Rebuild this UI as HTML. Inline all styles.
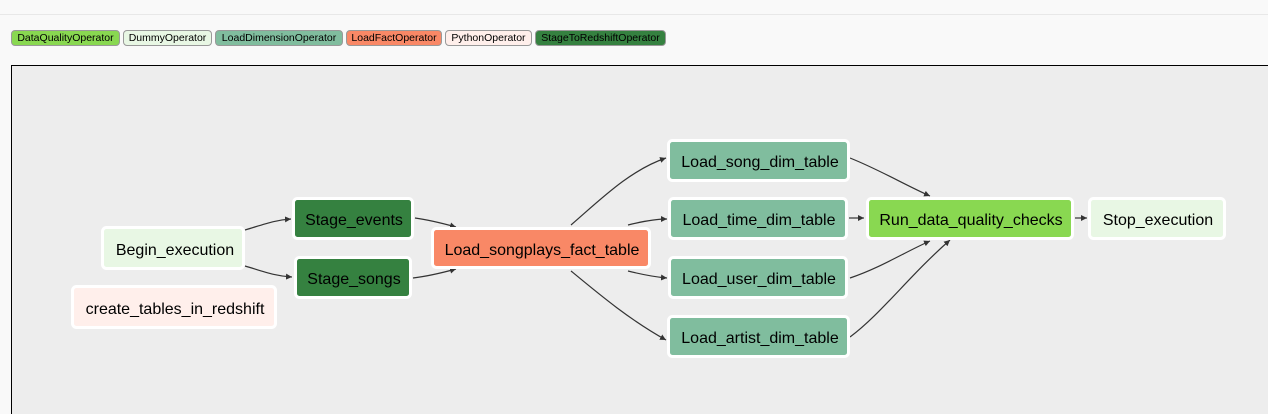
<!DOCTYPE html>
<html><head><meta charset="utf-8"><style>
html,body{margin:0;padding:0;width:1268px;height:414px;overflow:hidden;background:#f9f9f9;font-family:"Liberation Sans",Arial,sans-serif;}
.top{position:absolute;left:0;top:14px;width:1268px;height:1px;background:#e8e8e8;}
.leg{position:absolute;top:30px;height:16px;line-height:15px;font-size:10.5px;padding:0 3px;border:1px solid #999;border-radius:4px;color:#000;box-sizing:border-box;white-space:nowrap;overflow:hidden;text-align:center;}
.frame{position:absolute;left:11px;top:65px;width:1256px;height:348px;border:1px solid #000;border-bottom:none;border-right:none;background:#ededed;}
</style></head><body>
<div class="top"></div>
<div class="leg" style="left:11px;width:109px;background:#89d851">DataQualityOperator</div>
<div class="leg" style="left:123px;width:89px;background:#e8f7e4">DummyOperator</div>
<div class="leg" style="left:215px;width:128px;background:#80bd9e">LoadDimensionOperator</div>
<div class="leg" style="left:346px;width:96px;background:#f98866">LoadFactOperator</div>
<div class="leg" style="left:445px;width:87px;background:#ffefeb">PythonOperator</div>
<div class="leg" style="left:535px;width:131px;background:#358140">StageToRedshiftOperator</div>
<div class="frame"></div>
<svg width="1268" height="414" style="position:absolute;left:0;top:0">
<defs><marker id="a" markerWidth="8" markerHeight="8" refX="6" refY="3" orient="auto" markerUnits="userSpaceOnUse"><path d="M0,0 L6,3 L0,6 z" fill="#333"/></marker></defs>
<g fill="none" stroke="#333" stroke-width="1.2" marker-end="url(#a)">
<path d="M245,230 C265,224 275,220 291,219"/>
<path d="M245,266 C265,272 275,276 292,277"/>
<path d="M415,218 C430,220 445,224 456,227"/>
<path d="M413,278 C430,276 445,272 456,269"/>
<path d="M571,225 C600,200 630,170 666,158"/>
<path d="M628,225 C640,222 655,219 667,219"/>
<path d="M628,271 C640,274 655,277 667,278"/>
<path d="M571,271 C600,295 630,320 666,340"/>
<path d="M850,158 C880,170 905,185 930,196"/>
<path d="M849,218 L864,218"/>
<path d="M850,278 C880,268 905,252 930,241"/>
<path d="M850,337 C880,315 910,275 950,240"/>
<path d="M1075,218 L1087,218"/>
</g>
<g stroke="#fff" stroke-width="3">
<rect x="102.5" y="227.5" width="141" height="41" rx="4" fill="#e8f7e4"/>
<rect x="72.5" y="286.5" width="203" height="41" rx="4" fill="#ffefeb"/>
<rect x="293.5" y="198.5" width="119" height="40" rx="4" fill="#358140"/>
<rect x="295.5" y="257.5" width="115" height="40" rx="4" fill="#358140"/>
<rect x="432.5" y="228.5" width="217" height="39" rx="4" fill="#f98866"/>
<rect x="668.5" y="140.5" width="180" height="40" rx="4" fill="#80bd9e"/>
<rect x="669.5" y="198.5" width="177" height="40" rx="4" fill="#80bd9e"/>
<rect x="669.5" y="257.5" width="177" height="40" rx="4" fill="#80bd9e"/>
<rect x="668.5" y="316.5" width="180" height="40" rx="4" fill="#80bd9e"/>
<rect x="867.5" y="198.5" width="205" height="40" rx="4" fill="#89d851"/>
<rect x="1089.5" y="198.5" width="135" height="40" rx="4" fill="#e8f7e4"/>
</g>
<g font-size="16" text-anchor="middle" fill="#000" font-family="Liberation Sans,Arial,sans-serif">
<text x="175" y="255">Begin_execution</text>
<text x="175" y="314">create_tables_in_redshift</text>
<text x="354" y="225">Stage_events</text>
<text x="354" y="284">Stage_songs</text>
<text x="542" y="255">Load_songplays_fact_table</text>
<text x="760" y="167">Load_song_dim_table</text>
<text x="759" y="225">Load_time_dim_table</text>
<text x="759" y="284">Load_user_dim_table</text>
<text x="760" y="343">Load_artist_dim_table</text>
<text x="971" y="225">Run_data_quality_checks</text>
<text x="1158" y="225">Stop_execution</text>
</g>
</svg>
</body></html>
